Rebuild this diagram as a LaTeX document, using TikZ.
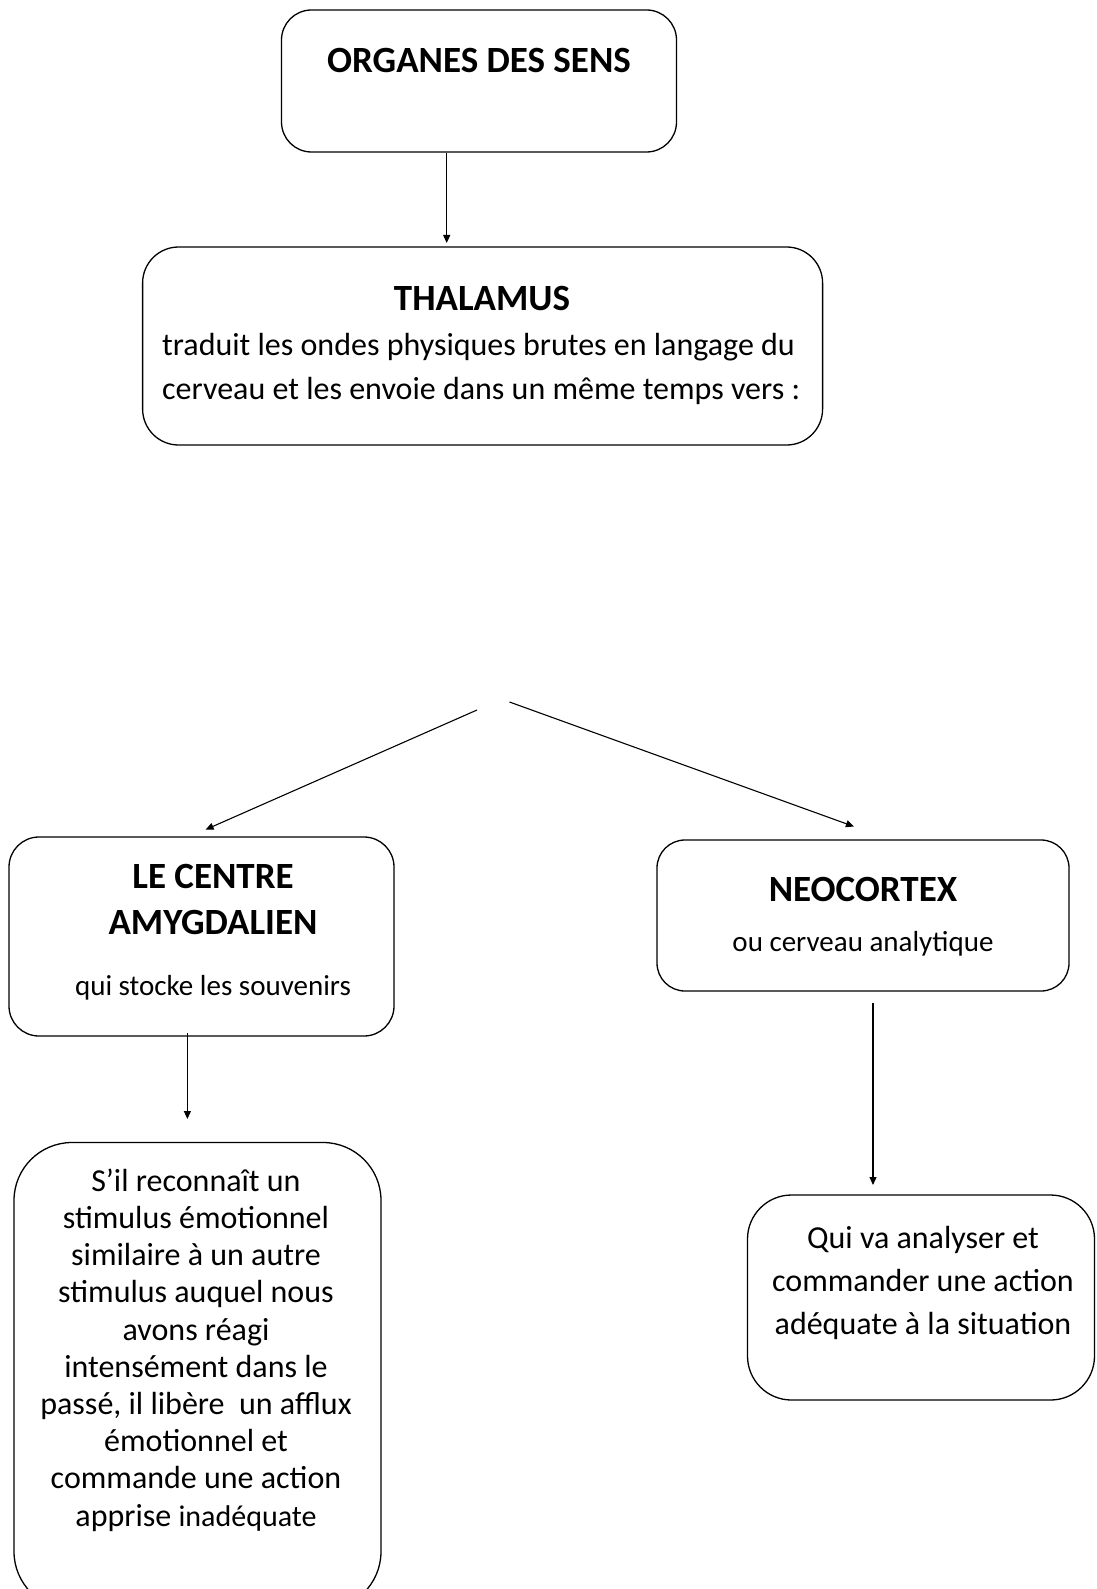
\documentclass[tikz,border=0pt]{standalone}
\usepackage{fontspec}
\setmainfont{Carlito}
\usetikzlibrary{arrows.meta,positioning}

\begin{document}
\begin{tikzpicture}[x=1pt,y=-1pt,>={Triangle[length=8pt,width=7pt]},
  box/.style={draw,line width=1.3pt,rounded corners=#1,inner sep=0pt},
  box/.default=30pt,
  ttl/.style={font=\fontsize{37}{46}\selectfont\bfseries,align=center,inner sep=0pt},
  conn/.style={->,line width=1.1pt}]
\useasboundingbox (0,0) rectangle (1096,1589);
% boxes
\node[box,minimum width=395pt,minimum height=142pt] (sens) at (479,81) {};
\node[box=36pt,minimum width=680pt,minimum height=198pt] (thal) at (482.6,346) {};
\node[box,minimum width=385pt,minimum height=199pt] (amyg) at (201.5,936.5) {};
\node[box=28pt,minimum width=412pt,minimum height=151pt] (neo) at (863,915.5) {};
\node[box=58pt,minimum width=367pt,minimum height=467pt] (reac) at (197.5,1376) {};
\node[box=44pt,minimum width=347pt,minimum height=205pt] (ana) at (921,1297.5) {};
% texts
\node[ttl] (sensT) at (479,60) {ORGANES DES SENS};
\node[ttl] (thalT) at (482,299) {THALAMUS};
\node[font=\fontsize{32}{44}\selectfont,align=left,anchor=west,inner sep=0pt] (thalB) at (162,369)
  {traduit les ondes physiques brutes en langage du\\cerveau et les envoie dans un même temps vers :};
\node[ttl] (amygT) at (213,899) {LE CENTRE\\AMYGDALIEN};
\node[font=\fontsize{29}{30}\selectfont,inner sep=0pt] (amygB) at (213,988) {qui stocke les souvenirs};
\node[ttl] (neoT) at (863,889) {NEOCORTEX};
\node[font=\fontsize{29}{30}\selectfont,inner sep=0pt] (neoB) at (863,944) {ou cerveau analytique};
\node[font=\fontsize{32}{37.2}\selectfont,align=center,inner sep=0pt] (reacB) at (196,1350)
  {S’il reconnaît un\\stimulus émotionnel\\similaire à un autre\\stimulus auquel nous\\avons réagi\\
   intensément dans le\\passé, il libère~ un afflux\\émotionnel et\\commande une action\\
   apprise {\fontsize{30}{37.2}\selectfont inadéquate}};
\node[font=\fontsize{32}{43}\selectfont,align=center,inner sep=0pt] (anaB) at (923,1283)
  {Qui va analyser et\\commander une action\\adéquate à la situation};
% arrows
\coordinate (t1) at (446.7,243);
\coordinate (s2) at (477,710);
\coordinate (t2) at (205.6,829.6);
\coordinate (s3) at (509.5,702);
\coordinate (t3) at (853.9,826.5);
\coordinate (s4) at (187.4,1033);
\coordinate (t4) at (187.4,1119);
\coordinate (s5) at (873,1003);
\coordinate (t5) at (873,1185);
\draw[conn] (sens.south -| t1) -- (t1);
\draw[conn] (s2) -- (t2);
\draw[conn] (s3) -- (t3);
\draw[conn] (s4) -- (t4);
\draw[conn] (s5) -- (t5);
\end{tikzpicture}
\end{document}
